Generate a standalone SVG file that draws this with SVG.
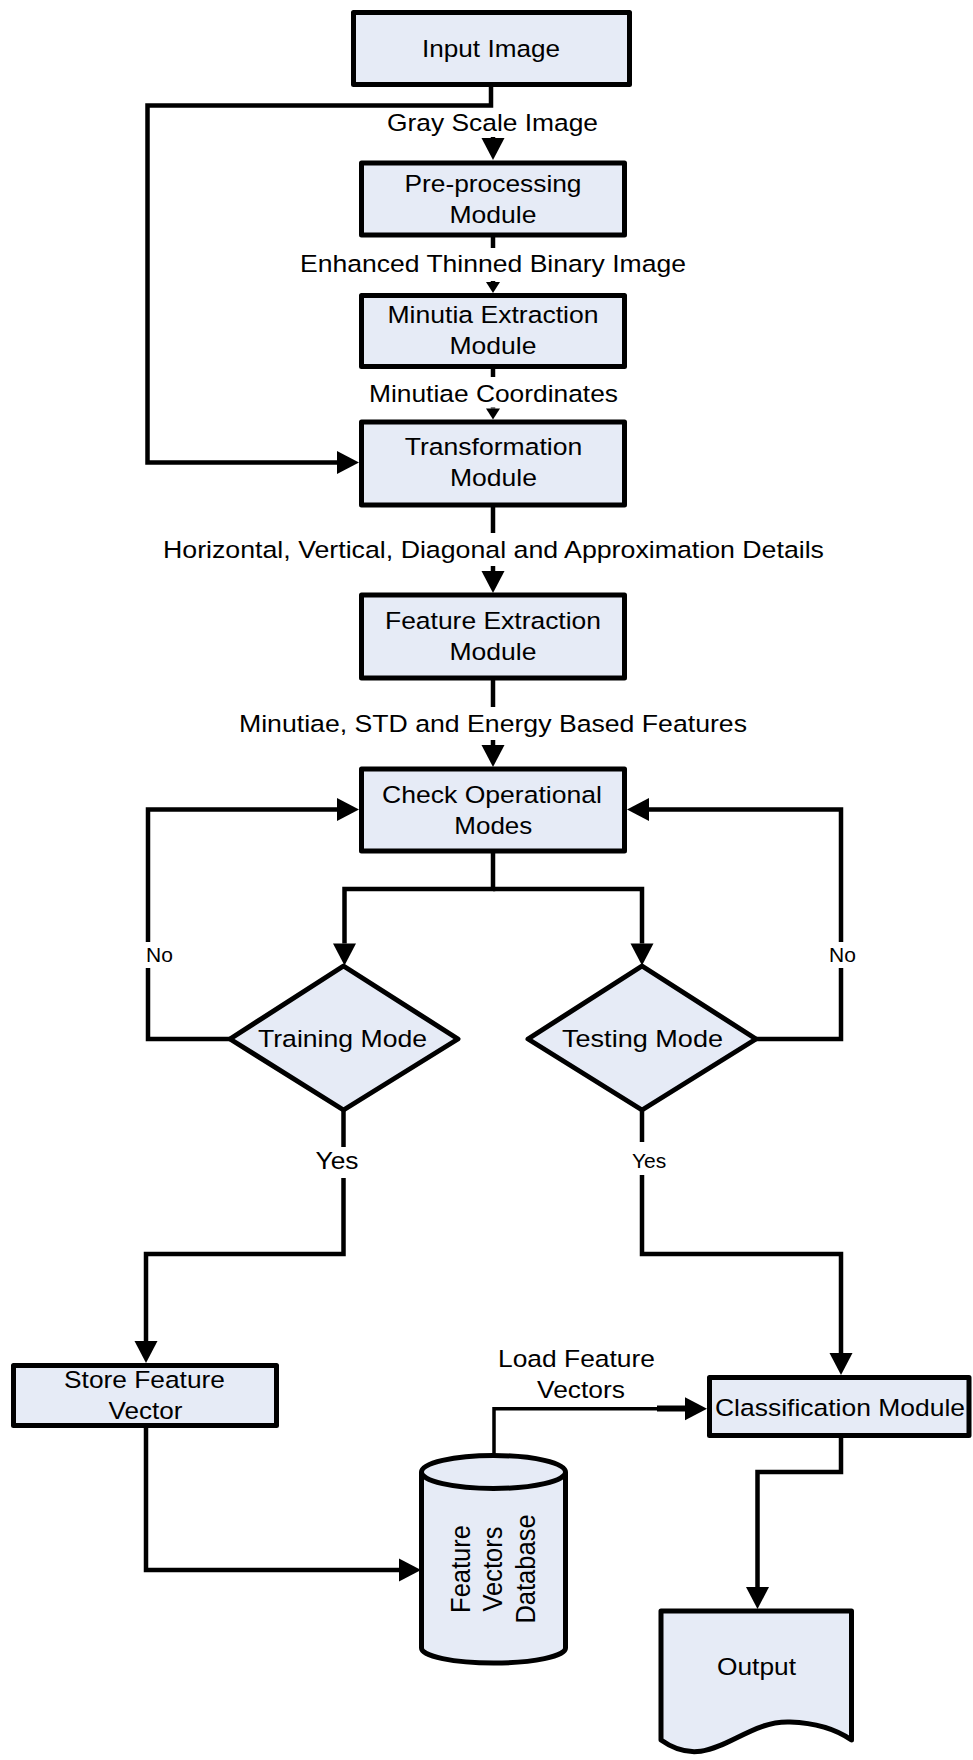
<svg xmlns="http://www.w3.org/2000/svg" width="973" height="1760" viewBox="0 0 973 1760">
  <style>
    .node { fill: #E6EBF6; stroke: #000; stroke-width: 5; stroke-linejoin: round; }
    .link { fill: none; stroke: #000; stroke-width: 4.5; stroke-linejoin: miter; }
    .thin { stroke-width: 3.5; }
    .t { font-family: "Liberation Sans", Arial, sans-serif; font-size: 24.5px; fill: #000; text-anchor: middle; }
    .s { font-family: "Liberation Sans", Arial, sans-serif; font-size: 21px; fill: #000; }
    .v { font-family: "Liberation Sans", Arial, sans-serif; font-size: 25.5px; fill: #000; text-anchor: middle; }
  </style>
  <defs>
    <marker id="big" markerUnits="userSpaceOnUse" viewBox="0 0 22 23" markerWidth="22" markerHeight="23" refX="0" refY="11.5" orient="auto" overflow="visible">
      <path d="M0,0 L22,11.5 L0,23 Z" fill="#000"/>
    </marker>
    <marker id="small" markerUnits="userSpaceOnUse" viewBox="0 0 11 14" markerWidth="11" markerHeight="14" refX="0" refY="7" orient="auto" overflow="visible">
      <path d="M0,0 L11,7 L0,14 Z" fill="#000"/>
    </marker>
  </defs>

  <rect width="973" height="1760" fill="#fff"/>

  <!-- connectors -->
  <g id="connectors">
    <path class="link" d="M491,87 V105.5 H147.5 V462.5 H337" marker-end="url(#big)"/>
    <path class="link" d="M493,137 V138" marker-end="url(#big)"/>
    <path class="link" d="M493,237 V248"/>
    <path class="link" d="M493,281 V282" marker-end="url(#small)"/>
    <path class="link" d="M493,369 V377"/>
    <path class="link" d="M493,407.5 V408.5" marker-end="url(#small)"/>
    <path class="link" d="M493,507 V533"/>
    <path class="link" d="M493,566 V571" marker-end="url(#big)"/>
    <path class="link" d="M493,680 V707"/>
    <path class="link" d="M493,740 V745" marker-end="url(#big)"/>
    <path class="link" d="M493,853 V889 H344.5 V943.5" marker-end="url(#big)"/>
    <path class="link" d="M493,889 H642 V943.5" marker-end="url(#big)"/>
    <path class="link" d="M230,1039 H148 V968"/>
    <path class="link" d="M148,942 V809.5 H337" marker-end="url(#big)"/>
    <path class="link" d="M756,1039 H841 V968"/>
    <path class="link" d="M841,942 V809.5 H649" marker-end="url(#big)"/>
    <path class="link" d="M343.5,1110 V1147"/>
    <path class="link" d="M343.5,1178 V1254 H146 V1341" marker-end="url(#big)"/>
    <path class="link" d="M642,1110 V1142"/>
    <path class="link" d="M642,1175 V1254 H841 V1353" marker-end="url(#big)"/>
    <path class="link" d="M146,1428 V1570 H399" marker-end="url(#big)"/>
    <path class="link thin" d="M494,1468 V1408.7 H685" marker-end="url(#big)"/>
    <path class="link" d="M657,1408.5 H685" style="stroke-width:6"/>
    <path class="link" d="M841,1438 V1472 H757.5 V1587" marker-end="url(#big)"/>
  </g>

  <!-- edge labels -->
  <g id="edge-labels">
    <text class="t" x="492.5" y="131" textLength="211" lengthAdjust="spacingAndGlyphs">Gray Scale Image</text>
    <text class="t" x="493" y="272" textLength="386" lengthAdjust="spacingAndGlyphs">Enhanced Thinned Binary Image</text>
    <text class="t" x="493.5" y="402" textLength="249" lengthAdjust="spacingAndGlyphs">Minutiae Coordinates</text>
    <text class="t" x="493.5" y="557.5" textLength="661" lengthAdjust="spacingAndGlyphs">Horizontal, Vertical, Diagonal and Approximation Details</text>
    <text class="t" x="493" y="732" textLength="508" lengthAdjust="spacingAndGlyphs">Minutiae, STD and Energy Based Features</text>
    <text class="s" x="146" y="962">No</text>
    <text class="s" x="829" y="962">No</text>
    <text class="t" x="337" y="1169" textLength="43" lengthAdjust="spacingAndGlyphs">Yes</text>
    <text class="s" x="632" y="1168">Yes</text>
    <text class="t" x="576.5" y="1367" textLength="157" lengthAdjust="spacingAndGlyphs">Load Feature</text>
    <text class="t" x="581" y="1398" textLength="88" lengthAdjust="spacingAndGlyphs">Vectors</text>
  </g>

  <!-- nodes -->
  <g id="input-image">
    <rect class="node" x="353.5" y="12.5" width="276" height="72"/>
    <text class="t" x="491" y="57" textLength="138" lengthAdjust="spacingAndGlyphs">Input Image</text>
  </g>
  <g id="preprocessing">
    <rect class="node" x="361.5" y="163" width="263" height="72"/>
    <text class="t" x="493" y="192" textLength="177" lengthAdjust="spacingAndGlyphs">Pre-processing</text>
    <text class="t" x="493" y="223" textLength="87" lengthAdjust="spacingAndGlyphs">Module</text>
  </g>
  <g id="minutia-extraction">
    <rect class="node" x="361.5" y="295.5" width="263" height="71"/>
    <text class="t" x="493" y="323" textLength="211" lengthAdjust="spacingAndGlyphs">Minutia Extraction</text>
    <text class="t" x="493" y="354" textLength="87" lengthAdjust="spacingAndGlyphs">Module</text>
  </g>
  <g id="transformation">
    <rect class="node" x="361.5" y="422" width="263" height="83"/>
    <text class="t" x="493.5" y="454.5" textLength="177.5" lengthAdjust="spacingAndGlyphs">Transformation</text>
    <text class="t" x="493.5" y="486" textLength="87" lengthAdjust="spacingAndGlyphs">Module</text>
  </g>
  <g id="feature-extraction">
    <rect class="node" x="361.5" y="595" width="263" height="83"/>
    <text class="t" x="493" y="628.5" textLength="216" lengthAdjust="spacingAndGlyphs">Feature Extraction</text>
    <text class="t" x="493" y="660" textLength="87" lengthAdjust="spacingAndGlyphs">Module</text>
  </g>
  <g id="check-modes">
    <rect class="node" x="361.5" y="769" width="263" height="82"/>
    <text class="t" x="492" y="803" textLength="220" lengthAdjust="spacingAndGlyphs">Check Operational</text>
    <text class="t" x="493.3" y="834" textLength="78" lengthAdjust="spacingAndGlyphs">Modes</text>
  </g>
  <g id="training-mode">
    <polygon class="node" points="343.5,966 458,1039 343.5,1110 230,1039"/>
    <text class="t" x="342.5" y="1047" textLength="169" lengthAdjust="spacingAndGlyphs">Training Mode</text>
  </g>
  <g id="testing-mode">
    <polygon class="node" points="642,966 756,1039 642,1110 528,1039"/>
    <text class="t" x="642.5" y="1047" textLength="161" lengthAdjust="spacingAndGlyphs">Testing Mode</text>
  </g>
  <g id="store-feature-vector">
    <rect class="node" x="13.5" y="1365.5" width="263" height="60"/>
    <text class="t" x="144.5" y="1388" textLength="161" lengthAdjust="spacingAndGlyphs">Store Feature</text>
    <text class="t" x="145.5" y="1419" textLength="74" lengthAdjust="spacingAndGlyphs">Vector</text>
  </g>
  <g id="feature-database">
    <path class="node" d="M421.5,1472 A72,16.5 0 0 1 565.5,1472 V1648 A72,15 0 0 1 421.5,1648 Z"/>
    <path class="node" style="fill:none" d="M421.5,1472 A72,16.5 0 0 0 565.5,1472"/>
    <text class="v" transform="translate(470,1569) scale(1.1,1) rotate(-90)">Feature</text>
    <text class="v" transform="translate(502,1569) scale(1.1,1) rotate(-90)">Vectors</text>
    <text class="v" transform="translate(535,1569) scale(1.1,1) rotate(-90)">Database</text>
  </g>
  <g id="classification">
    <rect class="node" x="709.5" y="1377.5" width="259.5" height="58"/>
    <text class="t" x="840" y="1416" textLength="250" lengthAdjust="spacingAndGlyphs">Classification Module</text>
  </g>
  <g id="output">
    <path class="node" d="M661,1611 H851.5 V1740 C840,1732 820,1723 790,1722 C740,1720 710,1775 661,1740 Z"/>
    <text class="t" x="756.5" y="1675" textLength="79" lengthAdjust="spacingAndGlyphs">Output</text>
  </g>
</svg>
